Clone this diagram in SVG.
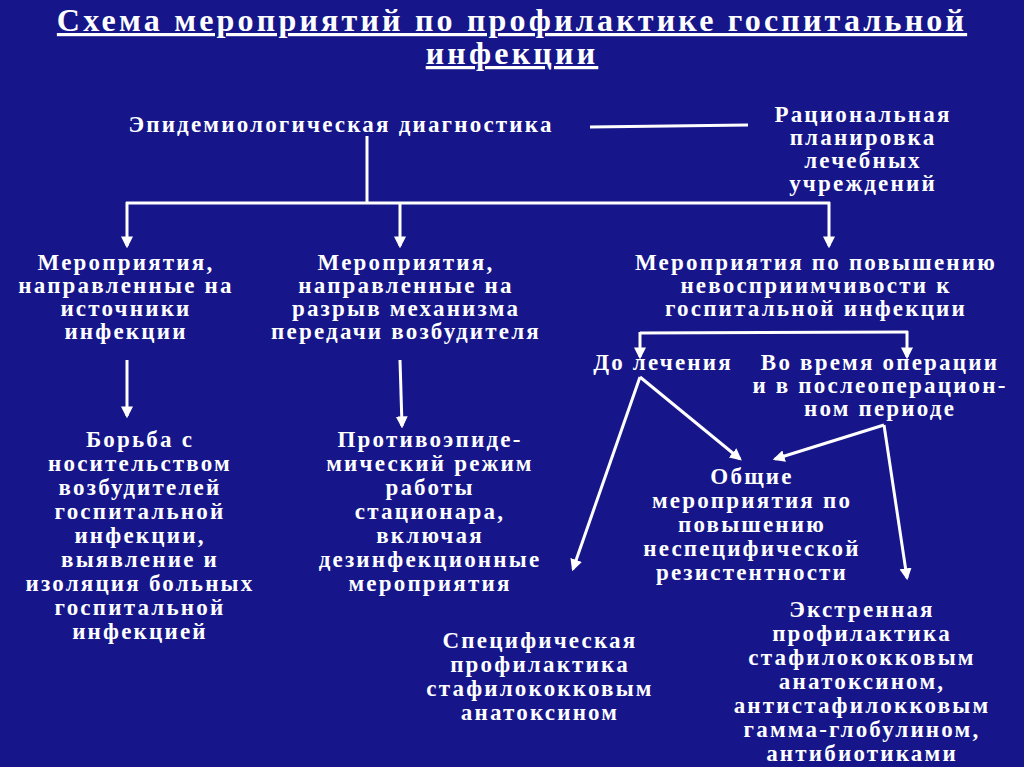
<svg xmlns="http://www.w3.org/2000/svg" width="1024" height="767" viewBox="0 0 1024 767">
<defs>
<style>
text{font-family:"Liberation Serif","Times New Roman",serif;font-weight:bold;fill:#fff;text-anchor:middle;font-size:23px;letter-spacing:2.2px}
.t{font-size:32px;letter-spacing:3.2px;text-decoration:underline}
.c line{stroke:#fff;stroke-width:3;fill:none}
.a{marker-end:url(#ah)}
</style>
<marker id="ah" viewBox="0 0 10 10" refX="8" refY="5" markerWidth="4" markerHeight="4" orient="auto"><path d="M0,0L10,5L0,10z" fill="#fff"/></marker>
</defs>
<rect width="1024" height="767" fill="#16168a"/>
<g id="title"><text class="t" x="512" y="31">Схема мероприятий по профилактике госпитальной</text><text class="t" x="512" y="64">инфекции</text></g>
<g id="diag"><text x="341" y="132">Эпидемиологическая диагностика</text></g>
<g id="plan"><text x="863" y="122">Рациональная</text><text x="863" y="145">планировка</text><text x="863" y="168">лечебных</text><text x="863" y="191">учреждений</text></g>
<g id="src"><text x="126" y="270">Мероприятия,</text><text x="126" y="293">направленные на</text><text x="126" y="316">источники</text><text x="126" y="339">инфекции</text></g>
<g id="mech"><text x="406" y="270">Мероприятия,</text><text x="406" y="293">направленные на</text><text x="406" y="316">разрыв механизма</text><text x="406" y="339">передачи возбудителя</text></g>
<g id="immun"><text x="816" y="270">Мероприятия по повышению</text><text x="816" y="293">невосприимчивости к</text><text x="816" y="316">госпитальной инфекции</text></g>
<g id="carrier"><text x="140" y="447">Борьба с</text><text x="140" y="471">носительством</text><text x="140" y="495">возбудителей</text><text x="140" y="519">госпитальной</text><text x="140" y="543">инфекции,</text><text x="140" y="567">выявление и</text><text x="140" y="591">изоляция больных</text><text x="140" y="615">госпитальной</text><text x="140" y="639">инфекцией</text></g>
<g id="regime"><text x="430" y="447">Противоэпиде-</text><text x="430" y="471">мический режим</text><text x="430" y="495">работы</text><text x="430" y="519">стационара,</text><text x="430" y="543">включая</text><text x="430" y="567">дезинфекционные</text><text x="430" y="591">мероприятия</text></g>
<g id="before"><text x="663" y="370">До лечения</text></g>
<g id="during"><text x="880" y="370">Во время операции</text><text x="880" y="393">и в послеоперацион-</text><text x="880" y="416">ном периоде</text></g>
<g id="general"><text x="752" y="484">Общие</text><text x="752" y="508">мероприятия по</text><text x="752" y="532">повышению</text><text x="752" y="556">неспецифической</text><text x="752" y="580">резистентности</text></g>
<g id="specific"><text x="540" y="648">Специфическая</text><text x="540" y="672">профилактика</text><text x="540" y="696">стафилококковым</text><text x="540" y="720">анатоксином</text></g>
<g id="emerg"><text x="862" y="617">Экстренная</text><text x="862" y="641">профилактика</text><text x="862" y="665">стафилококковым</text><text x="862" y="689">анатоксином,</text><text x="862" y="713">антистафилокковым</text><text x="862" y="737">гамма-глобулином,</text><text x="862" y="761">антибиотиками</text></g>
<g class="c" id="connectors">
<line x1="590" y1="127" x2="748" y2="125"/>
<line x1="367" y1="136" x2="367" y2="203"/>
<line x1="126" y1="203" x2="830" y2="203"/>
<line class="a" x1="127" y1="202" x2="127" y2="246"/>
<line class="a" x1="400" y1="203" x2="400" y2="246"/>
<line class="a" x1="829" y1="202" x2="829" y2="246"/>
<line class="a" x1="127" y1="360" x2="127" y2="416"/>
<line class="a" x1="400" y1="360" x2="402" y2="426"/>
<line x1="640" y1="333" x2="908" y2="332"/>
<line class="a" x1="640" y1="332" x2="640" y2="357"/>
<line class="a" x1="907" y1="331" x2="907" y2="357"/>
<line class="a" x1="640" y1="377" x2="573" y2="569"/>
<line class="a" x1="640" y1="377" x2="740" y2="459"/>
<line class="a" x1="884" y1="425" x2="775" y2="459"/>
<line class="a" x1="884" y1="425" x2="907" y2="578"/>
</g>
</svg>
